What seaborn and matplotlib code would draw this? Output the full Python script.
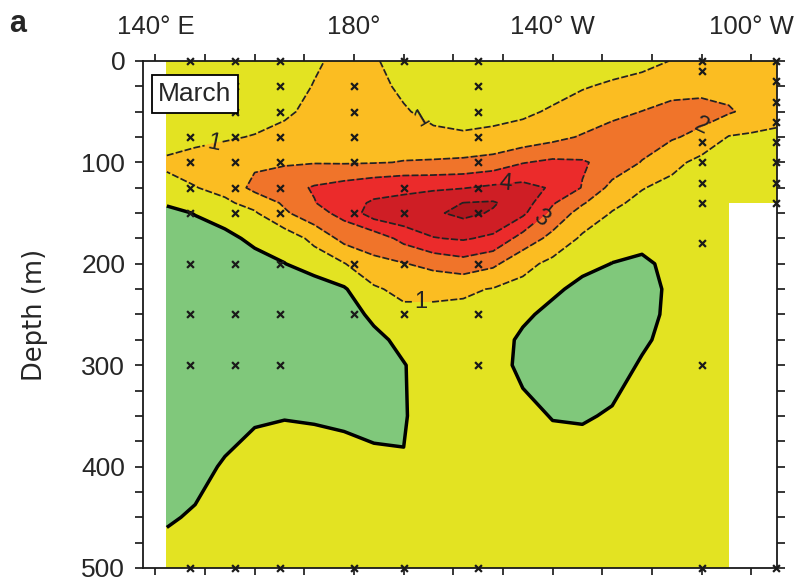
"""
赤道太平洋 3 月流速剖面（经度-深度等值线）
"""

import numpy as np
import pandas as pd
import matplotlib
matplotlib.use('Agg')
import matplotlib.pyplot as plt
from matplotlib.ticker import MultipleLocator, FixedLocator
import seaborn as sns

# ============================
# 1. 数据
# ============================
# 网格经度 (°E) 与深度 (m)
lon = [142.3, 148, 154, 160, 166, 172, 178, 184, 190, 196, 202,
       208, 214, 220, 226, 232, 238, 244, 250, 255.5, 260, 265]
depth = [0, 25, 50, 75, 100, 125, 140, 150, 175, 200,
         225, 250, 275, 300, 350, 400, 450, 500]

nan = np.nan
# 每一列对应一个经度，自上而下对应 depth
columns = [
    [0.3, 0.35, 0.45, 0.6, 1.15, 0.75, 0.15, -0.35, -0.5, -0.6, -0.6, -0.6, -0.6, -0.6, -0.5, -0.4, -0.1, 0.4],
    [0.3, 0.35, 0.5, 0.75, 1.35, 0.97, 0.4, 0.05, -0.5, -0.6, -0.6, -0.6, -0.6, -0.6, -0.5, -0.3, 0.1, 0.5],
    [0.3, 0.4, 0.5, 0.9, 1.5, 1.25, 0.85, 0.5, -0.3, -0.6, -0.6, -0.6, -0.6, -0.5, -0.4, 0.1, 0.4, 0.6],
    [0.35, 0.45, 0.6, 1.05, 1.8, 2.3, 1.3, 0.9, 0.25, -0.4, -0.6, -0.6, -0.6, -0.5, -0.15, 0.5, 0.6, 0.6],
    [0.4, 0.55, 0.78, 1.4, 1.9, 2.6, 2.15, 1.85, 0.45, -0.02, -0.5, -0.6, -0.6, -0.5, -0.05, 0.55, 0.6, 0.6],
    [0.85, 1.05, 1.35, 1.7, 1.95, 3.1, 2.95, 2.65, 1.25, 0.45, -0.5, -0.6, -0.6, -0.5, -0.1, 0.5, 0.6, 0.6],
    [1.3, 1.4, 1.5, 1.7, 1.92, 3.4, 3.7, 3.3, 2.3, 0.95, -0.1, -0.55, -0.6, -0.5, -0.2, 0.45, 0.6, 0.6],
    [1.1, 1.3, 1.45, 1.65, 1.95, 3.7, 4.1, 4.5, 2.4, 1.8, 0.85, 0.25, -0.3, -0.5, -0.35, 0.3, 0.6, 0.6],
    [0.6, 0.8, 1.1, 1.6, 2.03, 3.9, 4.12, 4.75, 3.3, 1.95, 1.3, 0.7, 0.3, -0.05, -0.08, 0.05, 0.4, 0.6],
    [0.4, 0.5, 0.7, 1.25, 2.1, 3.9, 4.4, 4.85, 3.95, 2.3, 1.2, 0.8, 0.6, 0.55, 0.55, 0.6, 0.6, 0.6],
    [0.4, 0.5, 0.7, 1.1, 2.2, 3.95, 5.02, 5.25, 4.1, 2.6, 1.15, 0.75, 0.6, 0.55, 0.55, 0.6, 0.6, 0.6],
    [0.4, 0.5, 0.8, 1.15, 2.4, 4.2, 5.1, 4.9, 3.8, 2.2, 0.95, 0.6, 0.5, 0.45, 0.5, 0.6, 0.6, 0.6],
    [0.5, 0.6, 0.85, 1.35, 2.95, 4.3, 4.5, 4.2, 2.6, 1.3, 0.7, 0.2, -0.2, -0.25, 0.3, 0.5, 0.6, 0.6],
    [0.55, 0.7, 1.1, 1.7, 3.2, 3.9, 3.1, 2.7, 1.7, 0.75, 0.2, -0.3, -0.4, -0.4, -0.05, 0.5, 0.6, 0.6],
    [0.6, 0.95, 1.3, 2.1, 3.1, 2.95, 2.1, 1.6, 0.85, 0.3, -0.3, -0.5, -0.5, -0.45, -0.1, 0.5, 0.6, 0.6],
    [0.7, 1.1, 1.7, 2.5, 2.65, 1.7, 1.2, 0.95, 0.45, -0.02, -0.4, -0.5, -0.5, -0.4, 0.1, 0.5, 0.6, 0.6],
    [0.8, 1.25, 2.02, 2.5, 1.95, 1.05, 0.75, 0.6, 0.25, -0.15, -0.3, -0.3, -0.15, 0.1, 0.4, 0.55, 0.6, 0.6],
    [1.02, 1.5, 2.4, 2.1, 1.3, 0.7, 0.55, 0.5, 0.35, 0.2, 0.15, 0.2, 0.3, 0.4, 0.5, 0.55, 0.6, 0.6],
    [1.2, 1.7, 2.35, 1.75, 0.7, 0.5, 0.45, 0.45, 0.4, 0.35, 0.35, 0.4, 0.45, 0.5, 0.55, 0.6, 0.6, 0.6],
    [1.3, 1.7, 2.1, 0.95, 0.6, 0.5, 0.45, 0.45, 0.45, 0.45, 0.45, 0.5, 0.5, 0.55, 0.55, 0.6, 0.6, 0.6],
    [1.3, 1.6, 1.75, 0.85, 0.6, 0.5, 0.45, nan, nan, nan, nan, nan, nan, nan, nan, nan, nan, nan],
    [1.3, 1.45, 1.35, 0.8, 0.6, 0.5, 0.45, nan, nan, nan, nan, nan, nan, nan, nan, nan, nan, nan],
]
field = np.array(columns).T

# 等值线分级与颜色
levels = [-5, 0, 1, 2, 3, 4, 5, 10]
fill_colors = ['#80c87b', '#e3e322', '#fbbd22', '#f0742a', '#eb2b2b', '#cf1e25', '#b0161c']

# 观测站位 (°E) 与采样深度 (m)
station_lon = [147, 156, 165, 180, 190, 205, 250, 265]
station_depths = [
    [0, 75, 100, 125, 150, 200, 250, 300, 500],
    [0, 25, 50, 75, 100, 125, 150, 200, 250, 300, 500],
    [0, 25, 50, 75, 100, 125, 150, 200, 250, 300, 500],
    [25, 50, 75, 100, 150, 200, 250, 500],
    [0, 125, 150, 200, 250, 500],
    [0, 25, 50, 75, 100, 125, 150, 200, 250, 300, 500],
    [0, 10, 80, 100, 120, 140, 180, 300, 500],
    [0, 20, 40, 60, 80, 100, 120, 140, 500],
]

lon_ticks = [140, 180, 220, 260]
lon_labels = ['140° E', '180°', '140° W', '100° W']

# 等值线标注位置 (经度, 深度)
label_pos = [(151.7, 81), (193.4, 59), (193.5, 241), (210.5, 120), (218.2, 159), (249.5, 61)]

# ============================
# 2. 绘图风格
# ============================
sns.set_style('ticks')
plt.rcParams['font.family'] = ['Liberation Sans Narrow', 'Liberation Sans', 'DejaVu Sans']
plt.rcParams['lines.dashed_pattern'] = [4.0, 1.3]

fig = plt.figure(figsize=(7.98, 5.84), dpi=100)
ax = fig.add_axes([0.1792, 0.0274, 0.7945, 0.8682])

# ============================
# 3. 等值线
# ============================
ax.contourf(lon, depth, field, levels=levels, colors=fill_colors, corner_mask=False)
ax.contour(lon, depth, field, levels=[0], colors='k', linewidths=2.5, corner_mask=False)
cs = ax.contour(lon, depth, field, levels=[1, 2, 3, 4, 5], colors='#222222',
                linewidths=1.25, linestyles='dashed', corner_mask=False)
ax.clabel(cs, fmt='%d', fontsize=17, inline=True, inline_spacing=3, manual=label_pos)

# 站位
stations = pd.DataFrame(
    [(lo, d) for lo, ds in zip(station_lon, station_depths) for d in ds],
    columns=['lon', 'depth'])
sns.scatterplot(data=stations, x='lon', y='depth', marker='x', color='#1a1a1a',
                s=24, linewidth=1.6, ax=ax, zorder=5, clip_on=False, legend=False)

# ============================
# 4. 坐标轴
# ============================
ax.set_xlim(137.5, 265.2)
ax.set_ylim(500, 0)
ax.xaxis.set_major_locator(FixedLocator(lon_ticks))
ax.set_xticklabels(lon_labels)
ax.xaxis.set_minor_locator(MultipleLocator(10))
ax.yaxis.set_major_locator(MultipleLocator(100))
ax.yaxis.set_minor_locator(MultipleLocator(25))

ax.tick_params(axis='x', which='both', top=True, bottom=True, labeltop=True,
               labelbottom=False, direction='out', length=5, width=1.3)
ax.tick_params(axis='x', which='major', pad=11, labelsize=18.5)
ax.tick_params(axis='y', which='both', left=True, right=True, labelright=False,
               direction='out', length=5.8, width=1.3)
ax.tick_params(axis='y', which='major', pad=7, labelsize=19)
for sp in ax.spines.values():
    sp.set_linewidth(1.3)
    sp.set_color('#1a1a1a')

ax.set_xlabel('')
ax.set_ylabel('Depth (m)', fontsize=18.5, family='DejaVu Sans')
ax.yaxis.set_label_coords(-0.15, 0.5)

ax.text(0.024, 0.935, 'March', transform=ax.transAxes, fontsize=19,
        ha='left', va='center', zorder=6,
        bbox=dict(boxstyle='square,pad=0.25', fc='white', ec='k', lw=1.3))

fig.text(0.012, 0.945, 'a', fontsize=22, fontweight='bold', family='Liberation Sans')

fig.savefig('out.png', dpi=100)
plt.close()
